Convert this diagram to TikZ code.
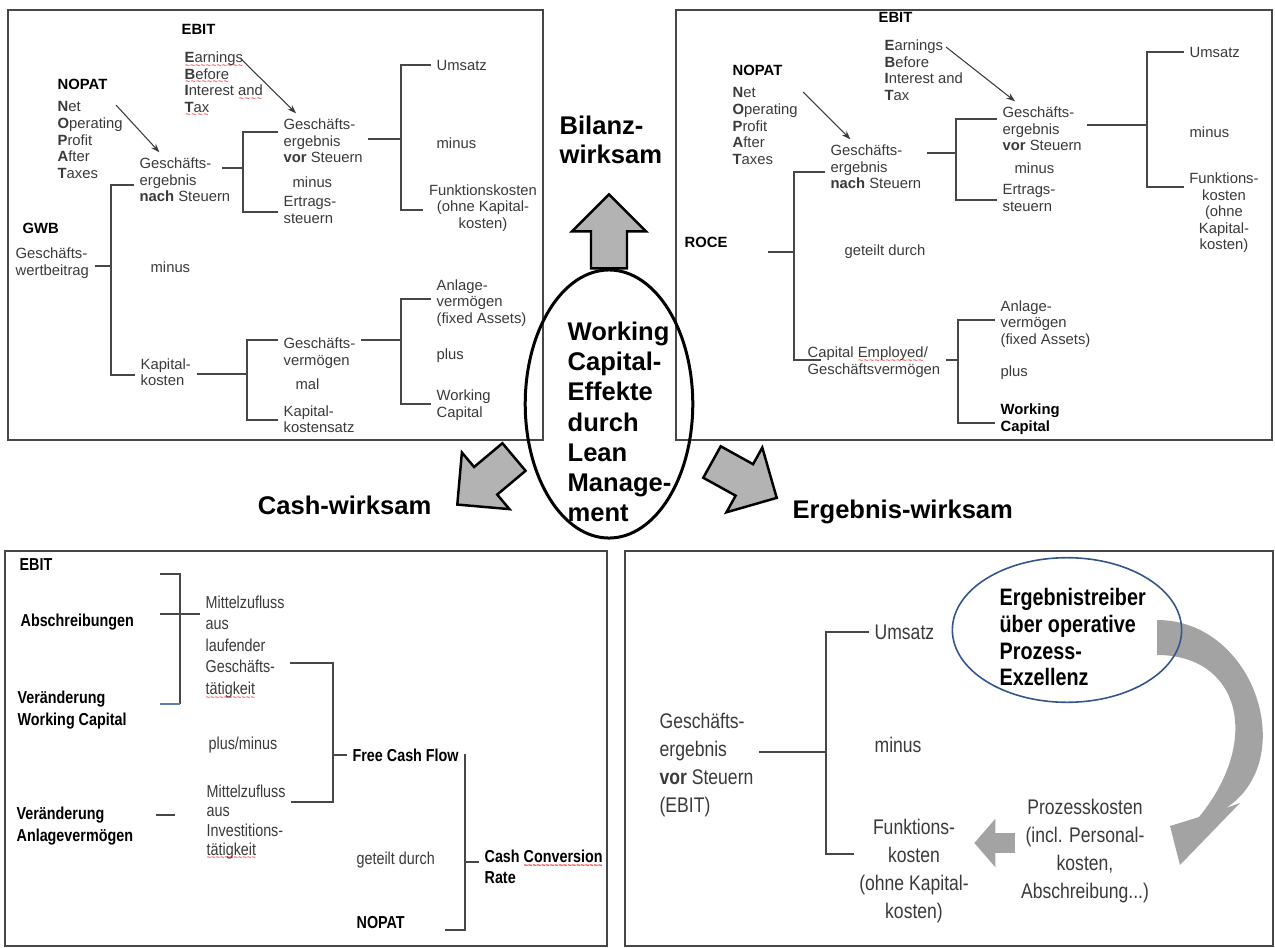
\documentclass[tikz,border=0pt]{standalone}
\usepackage{fontspec}
\setmainfont{Liberation Sans}
\newfontfamily\narrowfont[FakeStretch=0.83]{Liberation Sans}
\usetikzlibrary{calc, arrows.meta, shapes.geometric}
\definecolor{inkgray}{HTML}{3A3A3A}
\definecolor{linegray}{HTML}{474747}
\definecolor{arrowfill}{HTML}{B3B3B3}
\definecolor{softgray}{HTML}{A3A3A3}
\definecolor{ellblue}{HTML}{34558B}
\definecolor{bracketblue}{HTML}{5B7FB0}
\newcommand{\spellwave}[1]{\setbox0=\hbox{#1}\copy0\kern-\wd0\raisebox{-3.3pt}[0pt][0pt]{\hbox to \wd0{\color{red}\fontsize{5pt}{5pt}\selectfont\xleaders\hbox{\char"7E}\hfil}}}

\begin{document}
\begin{tikzpicture}[x=0.567pt, y=-0.567pt,
            frame/.style={draw=linegray, line width=0.7pt},
            conn/.style={draw=linegray, line width=0.7pt},
            ptr/.style={draw=inkgray, line width=0.6pt, -{Stealth[length=5pt, width=3.5pt]}},
            txt/.style={font=\fontsize{8.4pt}{9.4pt}\selectfont, text=inkgray, inner sep=3pt, anchor=west, align=left},
            key/.style={txt, font=\fontsize{8.4pt}{9.4pt}\selectfont\bfseries, text=black},
            big/.style={font=\fontsize{14.5pt}{16.8pt}\selectfont\bfseries, inner sep=3pt, align=left},
            cashtxt/.style={font=\narrowfont\fontsize{9.8pt}{12.2pt}\selectfont, text=inkgray, inner sep=3pt, anchor=west, align=left},
            cashkey/.style={cashtxt, font=\narrowfont\fontsize{9.8pt}{12.2pt}\selectfont\bfseries, text=black},
            restxt/.style={font=\narrowfont\fontsize{12pt}{15.9pt}\selectfont, text=inkgray, inner sep=3pt, align=center},
            hub/.style={draw=black, line width=1.7pt, ellipse, minimum width=95pt, minimum height=152pt, inner sep=0pt},
            driver/.style={draw=ellblue, line width=0.9pt, ellipse, minimum width=130pt, minimum height=82pt, inner sep=0pt},
            softarrow/.style={draw=softgray, line width=11pt, -{Triangle[length=12pt, width=27pt]}},
            fatarrow/.pic={\filldraw[fill=arrowfill, draw=black, line width=1.4pt, line join=miter]
                (0,-18) -- (37,-18) -- (37,-37) -- (74,0) -- (37,37) -- (37,18) -- (0,18) -- cycle;}
            ]
        \useasboundingbox (0,0) rectangle (1275,948);

        % GWB
        \draw[frame] (8,10) rectangle (543,440);
        \node[key] (tlEbit) at (176,29) {EBIT};
        \node[txt] (tlEbitTxt) at (179,82) {\spellwave{\textbf{E}arnings}\\\spellwave{\textbf{B}efore}\\\textbf{I}nterest \spellwave{and}\\\spellwave{\textbf{T}ax}};
        \node[key] (tlNopat) at (52,84) {NOPAT};
        \node[txt] (tlNopatTxt) at (52,140) {\textbf{N}et\\\textbf{O}perating\\\textbf{P}rofit\\\textbf{A}fter\\\textbf{T}axes};
        \node[txt] (tlGns) at (134,180) {Geschäfts-\\ergebnis\\\textbf{nach} Steuern};
        \node[txt] (tlGvs) at (278,141) {Geschäfts-\\ergebnis\\\textbf{vor} Steuern};
        \node[txt] (tlMinus1) at (287,182) {minus};
        \node[txt] (tlErt) at (278,210) {Ertrags-\\steuern};
        \node[txt] (tlUms) at (431,65) {Umsatz};
        \node[txt] (tlMinus2) at (431,143) {minus};
        \node[txt, anchor=center, align=center] (tlFk) at (483,208) {Funktionskosten\\(ohne Kapital-\\kosten)};
        \node[key] (tlGwb) at (17,228) {GWB};
        \node[txt] (tlGwbTxt) at (10,263) {Geschäfts-\\wertbeitrag};
        \node[txt] (tlMinus3) at (145,267) {minus};
        \node[txt] (tlKk) at (135,372) {Kapital-\\kosten};
        \node[txt] (tlGv) at (278,353) {Geschäfts-\\vermögen};
        \node[txt] (tlMal) at (290,384) {mal};
        \node[txt] (tlKks) at (278,419) {Kapital-\\kostensatz};
        \node[txt] (tlAv) at (431,303) {Anlage-\\vermögen\\(fixed Assets)};
        \node[txt] (tlPlus) at (431,356) {plus};
        \node[txt] (tlWc) at (431,405) {Working\\Capital};

        \path coordinate (tlS1) at (111,185) coordinate (tlS1m) at (111,266) coordinate (tlS1b) at (111,375)
              coordinate (tlS2a) at (222,168) coordinate (tlS2) at (243,132) coordinate (tlS2m) at (243,168) coordinate (tlS2b) at (243,212)
              coordinate (tlS3) at (401,65) coordinate (tlS3m) at (401,139) coordinate (tlS3b) at (401,210)
              coordinate (tlS4) at (247,340) coordinate (tlS4m) at (247,374) coordinate (tlS4b) at (247,420)
              coordinate (tlS5) at (401,299) coordinate (tlS5m) at (401,340) coordinate (tlS5b) at (401,404)
              coordinate (tlA1) at (116,105) coordinate (tlA2) at (240,58);

        \draw[conn] (tlGwbTxt.east |- tlS1m) -- (tlS1m);
        \draw[conn] (tlGns.west |- tlS1) -- (tlS1) -- (tlS1b) -- (tlKk.west |- tlS1b);
        \draw[conn] (tlS2a) -- (tlS2m);
        \draw[conn] (tlGvs.west |- tlS2) -- (tlS2) -- (tlS2b) -- (tlErt.west |- tlS2b);
        \draw[conn] (tlGvs.east |- tlS3m) -- (tlS3m);
        \draw[conn] (tlUms.west |- tlS3) -- (tlS3) -- (tlS3b) -- (tlFk.west |- tlS3b);
        \draw[conn] (tlKk.east |- tlS4m) -- (tlS4m);
        \draw[conn] (tlGv.west |- tlS4) -- (tlS4) -- (tlS4b) -- (tlKks.west |- tlS4b);
        \draw[conn] (tlGv.east |- tlS5m) -- (tlS5m);
        \draw[conn] (tlAv.west |- tlS5) -- (tlS5) -- (tlS5b) -- (tlWc.west |- tlS5b);
        \draw[ptr] (tlA1) to ($(tlGns.north west)!0.25!(tlGns.north east)$);
        \draw[ptr] (tlA2) to ($(tlGvs.north west)!0.2!(tlGvs.north east)$);

        % ROCE
        \draw[frame] (676,10) rectangle (1272,440);
        \node[key] (trEbit) at (873,17) {EBIT};
        \node[txt] (trEbitTxt) at (879,70) {\textbf{E}arnings\\\textbf{B}efore\\\textbf{I}nterest and\\\textbf{T}ax};
        \node[key] (trNopat) at (727,70) {NOPAT};
        \node[txt] (trNopatTxt) at (727,126) {\textbf{N}et\\\textbf{O}perating\\\textbf{P}rofit\\\textbf{A}fter\\\textbf{T}axes};
        \node[txt] (trGns) at (825,167) {Geschäfts-\\ergebnis\\\textbf{nach} Steuern};
        \node[txt] (trGvs) at (997,129) {Geschäfts-\\ergebnis\\\textbf{vor} Steuern};
        \node[txt] (trMinus1) at (1009,168) {minus};
        \node[txt] (trErt) at (997,198) {Ertrags-\\steuern};
        \node[txt] (trUms) at (1184,52) {Umsatz};
        \node[txt] (trMinus2) at (1184,132) {minus};
        \node[txt, anchor=center, align=center] (trFk) at (1224,213) {Funktions-\\kosten\\(ohne\\Kapital-\\kosten)};
        \node[key] (trRoce) at (679,242) {ROCE};
        \node[txt] (trGd) at (839,252) {geteilt durch};
        \node[txt] (trCe) at (802,362) {Capital \spellwave{Employed}/\\Geschäftsvermögen};
        \node[txt] (trAv) at (995,324) {Anlage-\\vermögen\\(fixed Assets)};
        \node[txt] (trPlus) at (995,373) {plus};
        \node[key] (trWc) at (995,419) {Working\\Capital};

        \path coordinate (trS1a) at (768,252) coordinate (trS1) at (794,172) coordinate (trS1m) at (794,252) coordinate (trS1b) at (794,360)
              coordinate (trS2a) at (927,153) coordinate (trS2) at (956,119) coordinate (trS2m) at (956,153) coordinate (trS2b) at (956,200)
              coordinate (trS3) at (1147,52) coordinate (trS3m) at (1147,125) coordinate (trS3b) at (1147,187)
              coordinate (trS4) at (958,320) coordinate (trS4m) at (958,360) coordinate (trS4b) at (958,423)
              coordinate (trA1) at (803,92) coordinate (trA2) at (946,47);

        \draw[conn] (trS1a) -- (trS1m);
        \draw[conn] (trGns.west |- trS1) -- (trS1) -- (trS1b) -- ++(27,0);
        \draw[conn] (trS2a) -- (trS2m);
        \draw[conn] (trGvs.west |- trS2) -- (trS2) -- (trS2b) -- (trErt.west |- trS2b);
        \draw[conn] (trGvs.east |- trS3m) -- (trS3m);
        \draw[conn] (trUms.west |- trS3) -- (trS3) -- (trS3b) -- (trFk.west |- trS3b);
        \draw[conn] (trCe.east |- trS4m) -- (trS4m);
        \draw[conn] (trAv.west |- trS4) -- (trS4) -- (trS4b) -- (trWc.west |- trS4b);
        \draw[ptr] (trA1) to ($(trGns.north west)!0.25!(trGns.north east)$);
        \draw[ptr] (trA2) to ($(trGvs.north west)!0.2!(trGvs.north east)$);

        % centre
        \node[big, anchor=west] (bilanz) at (554,140) {Bilanz-\\wirksam};
        \node[hub] (hub) at (609,404) {};
        \node[big, font=\fontsize{14.5pt}{17.1pt}\selectfont\bfseries, anchor=west] (hubTxt) at (562,422) {Working\\Capital-\\Effekte\\durch\\Lean\\Manage-\\ment};
        \path coordinate (cashTail) at (514,457) coordinate (resTail) at (712,462);
        \pic[rotate=90] at (hub.north) {fatarrow};
        \pic[rotate=220] at (cashTail) {fatarrow};
        \pic[rotate=-29] at (resTail) {fatarrow};
        \node[big, anchor=east] (cash) at (437,505) {Cash-wirksam};
        \node[big, anchor=west] (result) at (787,512) {Ergebnis-wirksam};

        % Cash Conversion Rate
        \draw[frame] (5,551) rectangle (607,946);
        \node[cashkey] (blEbit) at (14,565) {EBIT};
        \node[cashkey] (blAbs) at (15,622) {Abschreibungen};
        \node[cashkey] (blVwc) at (12,710) {Veränderung\\Working Capital};
        \node[cashtxt] (blMz1) at (200,647) {Mittelzufluss\\aus\\laufender\\Geschäfts-\\\spellwave{tätigkeit}};
        \node[cashtxt] (blPm) at (203,745) {plus/minus};
        \node[cashtxt, font=\narrowfont\fontsize{9.8pt}{10.8pt}\selectfont] (blMz2) at (201,822) {Mittelzufluss\\aus\\Investitions-\\\spellwave{tätigkeit}};
        \node[cashkey] (blVav) at (11,826) {Veränderung\\Anlagevermögen};
        \node[cashkey] (blFcf) at (347,755) {Free Cash Flow};
        \node[cashtxt] (blGd) at (351,860) {geteilt durch};
        \node[cashkey] (blNopat) at (351,923) {NOPAT};
        \node[cashkey] (blCcr) at (479,867) {Cash \spellwave{Conversion}\\Rate};

        \path coordinate (blT1) at (160,574) coordinate (blT2) at (160,614) coordinate (blT3) at (160,704)
              coordinate (blS1) at (180,574) coordinate (blS1b) at (180,704)
              coordinate (blS2) at (333,663) coordinate (blS2m) at (333,755) coordinate (blS2b) at (333,802)
              coordinate (blS3) at (465,758) coordinate (blS3m) at (465,862) coordinate (blS3b) at (465,930)
              coordinate (blT4) at (445,930) coordinate (blD1) at (156,815) coordinate (blD2) at (175,815);

        \draw[conn] (blT1) -- (blS1) -- (blS1b);
        \draw[conn, draw=bracketblue] (blS1b) -- (blT3);
        \draw[conn] (blT2) -- (blMz1.west |- blT2);
        \draw[conn] (blMz1.east |- blS2) -- (blS2) -- (blS2b) -- (blMz2.east |- blS2b);
        \draw[conn] (blS2m) -- (blFcf.west);
        \draw[conn] (blFcf.east) -- (blFcf.east -| blS3) -- (blS3b) -- (blT4);
        \draw[conn] (blS3m) -- (blCcr.west |- blS3m);
        \draw[conn] (blD1) -- (blD2);

        % Ergebnis
        \draw[frame] (625,551) rectangle (1273,946);
        \node[restxt, anchor=west, align=left] (brEbit) at (654,765) {Geschäfts-\\ergebnis\\\textbf{vor} Steuern\\(EBIT)};
        \node[restxt, anchor=west] (brUms) at (869,632) {Umsatz};
        \node[restxt, anchor=west] (brMinus) at (869,745) {minus};
        \node[restxt] (brFk) at (914,871) {Funktions-\\kosten\\(ohne Kapital-\\kosten)};
        \node[restxt] (brPk) at (1085,851) {Prozesskosten\\(incl. Personal-\\kosten,\\Abschreibung...)};

        \fill[softgray] (1157,620) .. controls (1255,620) and (1300,760) .. (1226,808) -- (1240,803) -- (1180,865)
              -- (1170,826) -- (1199,817) .. controls (1262,740) and (1240,655) .. (1157,655) -- cycle;
        \node[driver] (brDrv) at (1067,630) {};
        \node[restxt, font=\narrowfont\fontsize{13.5pt}{15.3pt}\selectfont\bfseries, text=black, anchor=west, align=left] (brDrvTxt) at (994,637) {Ergebnistreiber\\über operative\\Prozess-\\Exzellenz};

        \path coordinate (brS) at (826,632) coordinate (brSm) at (826,752) coordinate (brSb) at (826,854)
              coordinate (brArrY) at (0,843);
        \draw[conn] (brEbit.east |- brSm) -- (brSm);
        \draw[conn] (brUms.west |- brS) -- (brS) -- (brSb) -- (brFk.west |- brSb);
        \draw[softarrow] (brPk.west |- brArrY) -- (brFk.east |- brArrY);
    \end{tikzpicture}
\end{document}
